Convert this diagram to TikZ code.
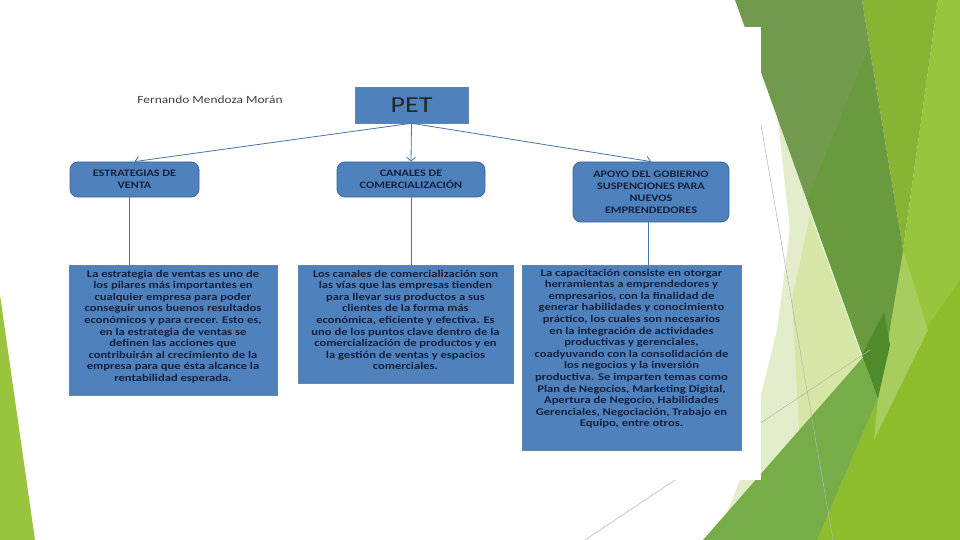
\documentclass[tikz,border=0pt]{standalone}
\usepackage{fontspec}
\setmainfont{Carlito}[FakeStretch=1.22]
\usepackage{xcolor}
\usetikzlibrary{positioning,arrows.meta,calc}

\definecolor{cajaazul}{HTML}{4F81BD}
\definecolor{bordeazul}{HTML}{3B679C}
\definecolor{textonavy}{HTML}{14213D}
\definecolor{verdeoliva}{HTML}{729A4F}
\definecolor{verdeoscuro}{HTML}{699A3E}
\definecolor{verdevivo}{HTML}{87B433}
\definecolor{verdelima}{HTML}{98C43E}
\definecolor{verdelimados}{HTML}{8DBD2D}
\definecolor{verdeclaro}{HTML}{A6CD5E}
\definecolor{verdemedio}{HTML}{76AD48}
\definecolor{verdepalido}{HTML}{E3EDCB}
\definecolor{verdepalidodos}{HTML}{D5E6A6}
\definecolor{verdenoche}{HTML}{4F8B2B}
\definecolor{lineagris}{HTML}{B4B4B4}

\tikzset{
  titulo/.style={draw=bordeazul, fill=cajaazul, rounded corners=8pt, minimum height=35pt,
    align=center, font=\bfseries\fontsize{10}{12}\selectfont, text=textonavy, line width=0.8pt},
  cuadro/.style={draw=bordeazul!80, fill=cajaazul, line width=0.6pt},
  texto/.style={align=center, font=\bfseries\fontsize{10.3}{11.6}\selectfont,
    text=textonavy, inner sep=0pt, anchor=north},
  flecha/.style={draw=cajaazul!90!black, line width=0.8pt, -{Straight Barb[length=4pt,width=9pt]}},
  enlace/.style={draw=cajaazul!90!black, line width=0.8pt},
}

\begin{document}
\begin{tikzpicture}[x=1pt, y=-1pt]
        \useasboundingbox (0,0) rectangle (960,540);
        % Fondo
        \fill[white] (0,0) rectangle (960,540);
        \fill[verdelima] (0,295) -- (35,540) -- (0,540) -- cycle;
        \fill[verdelima] (938,0) -- (960,0) -- (960,540) -- (817,540) -- (878,398) -- (903,250) -- cycle;
        \fill[verdelimados] (960,280) -- (960,540) -- (817,540) -- (878,398) -- cycle;
        \fill[verdeclaro] (903,250) -- (928,330) -- (874,440) -- (878,398) -- cycle;
        \fill[verdevivo] (862,0) -- (938,0) -- (903,250) -- cycle;
        \fill[verdepalido] (777,112) -- (878,398) -- (722,525) -- (740,480) -- (777,330) -- (790,230) -- cycle;
        \fill[verdepalidodos] (810,215) -- (872,385) -- (800,445) -- (792,300) -- cycle;
        \fill[verdeoliva] (735,0) -- (862,0) -- (903,250) -- (878,398) -- cycle;
        \fill[verdeoscuro] (868,50) -- (903,250) -- (878,398) -- (807,200) -- cycle;
        \fill[verdemedio] (703,540) -- (865,355) -- (878,398) -- (817,540) -- cycle;
        \fill[verdenoche] (884,312) -- (890,345) -- (878,398) -- (862,355) -- cycle;
        \draw[lineagris, line width=0.5pt] (761,125) -- (833,540);
        \draw[lineagris, line width=0.5pt] (585,540) -- (870,350);
        \fill[white] (45,27) rectangle (761,480);

        % Encabezado
        \node[text=black!75, font=\fontsize{11}{13}\selectfont] (autor) at (210,100) {Fernando Mendoza Morán};
        \node[cuadro, minimum width=113pt, minimum height=36pt, font=\fontsize{23}{26}\selectfont,
              text=black!85] (pet) at (411.5,105) {PET};

        % Ramas
        \node[titulo, minimum width=129pt] (estr) at (134.5,179.5) {ESTRATEGIAS DE\\VENTA};
        \node[titulo, minimum width=148pt] (canal) at (411,179.5) {CANALES DE\\COMERCIALIZACIÓN};
        \node[titulo, minimum width=156pt, minimum height=60pt] (apoyo) at (651,192)
              {APOYO DEL GOBIERNO\\SUSPENCIONES PARA\\NUEVOS\\EMPRENDEDORES};
        \draw[flecha] (pet.south) -- (estr.north);
        \draw[flecha] (pet.south) -- (canal.north);
        \draw[flecha] (pet.south) -- (apoyo.north);

        % Descripciones
        \node[cuadro, minimum width=208pt, minimum height=130pt] (d1) at (173,330) {};
        \node[cuadro, minimum width=215pt, minimum height=118pt] (d2) at (405.5,324) {};
        \node[cuadro, minimum width=219pt, minimum height=185pt] (d3) at (631.5,357.5) {};
        \draw[enlace] ([xshift=-5.5pt]estr.south) -- ([xshift=-5.5pt]estr.south |- d1.north);
        \draw[enlace] (canal.south) -- (canal.south |- d2.north);
        \draw[enlace] ([xshift=-3pt]apoyo.south) -- ([xshift=-3pt]apoyo.south |- d3.north);

        \node[texto] (d1t) at ($(d1.north)+(0,5)$) {La estrategia de ventas es uno de\\los pilares más importantes en\\cualquier empresa para poder\\conseguir unos buenos resultados\\económicos y para crecer. Esto es,\\en la estrategia de ventas se\\definen las acciones que\\contribuirán al crecimiento de la\\empresa para que ésta alcance la\\rentabilidad esperada.};
        \node[texto] (d2t) at ($(d2.north)+(0,5)$) {Los canales de comercialización son\\las vías que las empresas tienden\\para llevar sus productos a sus\\clientes de la forma más\\económica, eficiente y efectiva. Es\\uno de los puntos clave dentro de la\\comercialización de productos y en\\la gestión de ventas y espacios\\comerciales.};
        \node[texto] (d3t) at ($(d3.north)+(0,4)$) {La capacitación consiste en otorgar\\herramientas a emprendedores y\\empresarios, con la finalidad de\\generar habilidades y conocimiento\\práctico, los cuales son necesarios\\en la integración de actividades\\productivas y gerenciales,\\coadyuvando con la consolidación de\\los negocios y la inversión\\productiva. Se imparten temas como\\Plan de Negocios, Marketing Digital,\\Apertura de Negocio, Habilidades\\Gerenciales, Negociación, Trabajo en\\Equipo, entre otros.};
\end{tikzpicture}
\end{document}
